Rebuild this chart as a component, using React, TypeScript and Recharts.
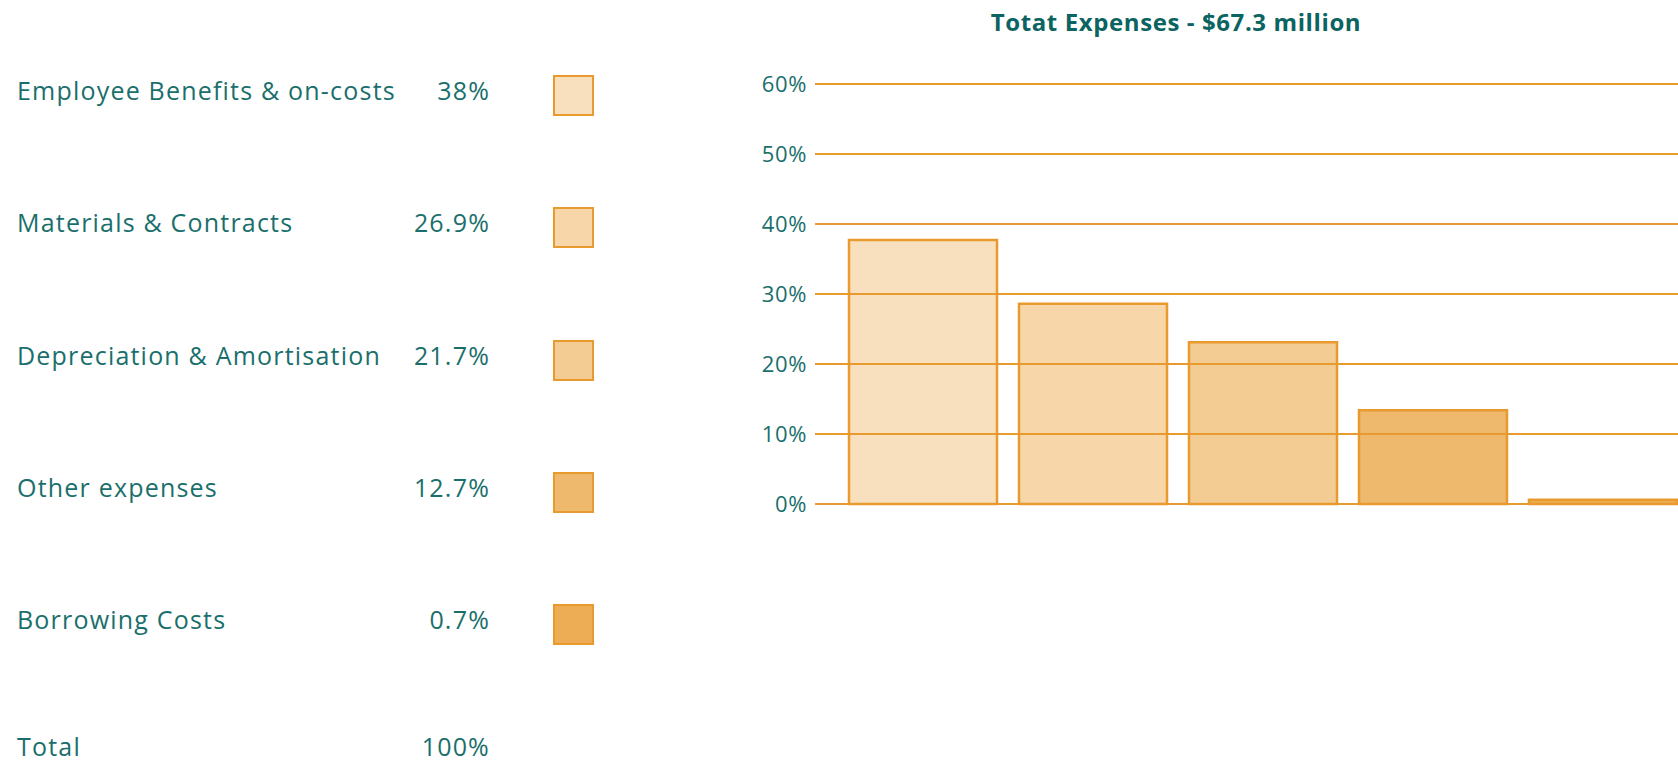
import React from 'react';
import { BarChart, Bar, Cell, XAxis, YAxis, ReferenceLine } from 'recharts';

const CATEGORIES = [
  'Employee Benefits & on-costs',
  'Materials & Contracts',
  'Depreciation & Amortisation',
  'Other expenses',
  'Borrowing Costs',
];
const SHARE_LABELS = ['38%', '26.9%', '21.7%', '12.7%', '0.7%'];
const BAR_VALUES = [37.7, 28.6, 23.1, 13.4, 0.6];
const Y_TICKS = [0, 10, 20, 30, 40, 50, 60];
const TOTAL_LABEL = 'Total';
const TOTAL_VALUE = '100%';
const TITLE = 'Totat Expenses - $67.3 million';

const FILLS = ['#F8E0BF', '#F7D6AA', '#F3CC94', '#EEB86D', '#EDAD55'];
const ORANGE = '#E89A2F';
const TEAL = '#1A6F6C';
const FONT = '"Open Sans", "Noto Sans", sans-serif';

const data = CATEGORIES.map((name, i) => ({ name, value: BAR_VALUES[i] }));

const W = 1678;
const H = 763;
const ROW_TOP = 90;
const ROW_STEP = 132.3;

const textStyle: React.CSSProperties = {
  position: 'absolute',
  height: 26,
  lineHeight: '26px',
  fontSize: 25,
  letterSpacing: 1.2,
  whiteSpace: 'nowrap',
};

const App = () => {
  const rows = [
    ...CATEGORIES.map((name, i) => ({ name, label: SHARE_LABELS[i], fill: FILLS[i] })),
    { name: TOTAL_LABEL, label: TOTAL_VALUE, fill: null },
  ];

  return (
    <div
      style={{
        position: 'absolute',
        left: 0,
        top: 0,
        width: W,
        height: H,
        overflow: 'hidden',
        background: '#fff',
        fontFamily: FONT,
        color: TEAL,
      }}
    >
      {rows.map((r, i) => {
        const cy = ROW_TOP + i * ROW_STEP;
        const top = Math.min(cy - 13, H - 30);
        return (
          <React.Fragment key={r.name}>
            <div style={{ ...textStyle, left: 17, top }}>{r.name}</div>
            <div style={{ ...textStyle, right: W - 490, top }}>{r.label}</div>
            {r.fill && (
              <div
                style={{
                  position: 'absolute',
                  left: 553,
                  top: cy - 15,
                  width: 37,
                  height: 37,
                  background: r.fill,
                  border: `2px solid ${ORANGE}`,
                }}
              />
            )}
          </React.Fragment>
        );
      })}

      <div
        style={{
          position: 'absolute',
          left: 926,
          width: 500,
          top: 5,
          textAlign: 'center',
          fontSize: 24,
          letterSpacing: 0.6,
          fontWeight: 700,
          color: '#0B6461',
          whiteSpace: 'nowrap',
        }}
      >
        {TITLE}
      </div>

      <div style={{ position: 'absolute', left: 700, top: 0 }}>
        <BarChart
          width={988}
          height={H}
          data={data}
          margin={{ top: 84, right: 0, bottom: 259, left: 0 }}
          barSize={148}
        >
          <XAxis dataKey="name" hide padding={{ left: 23, right: 0 }} />
          <YAxis
            width={115}
            domain={[0, 60]}
            ticks={Y_TICKS}
            axisLine={false}
            tickLine={false}
            tickFormatter={(v) => `${v}%`}
            tick={{ fill: TEAL, fontSize: 22, fontFamily: FONT, letterSpacing: 0.6 }}
          />
          <Bar dataKey="value" stroke={ORANGE} strokeWidth={2.5} isAnimationActive={false}>
            {data.map((entry, index) => (
              <Cell key={`cell-${index}`} fill={FILLS[index % FILLS.length]} />
            ))}
          </Bar>
          {Y_TICKS.map((t) => (
            <ReferenceLine key={t} y={t} stroke={ORANGE} strokeWidth={2.2} />
          ))}
        </BarChart>
      </div>
    </div>
  );
};

export default App;
